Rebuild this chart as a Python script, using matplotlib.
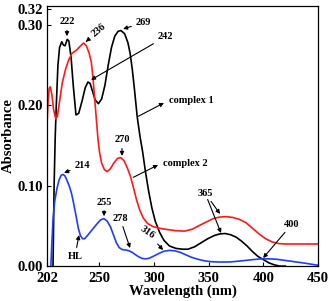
import matplotlib
matplotlib.use('Agg')
from matplotlib import pyplot as plt

# complex 1 (black)
c1_nm = [207.5, 208.5, 209.5, 210.5, 212, 213.5, 215.5, 217, 218.5, 220.5, 222, 224, 226,
         228.5, 231, 234, 237, 239.5, 241.5, 243.5, 246, 249, 252, 255, 258, 261, 264, 267,
         269.7, 273, 276, 278, 280, 282, 284.5, 287, 289.5, 292, 295, 298, 301, 305, 309,
         314, 320, 326, 331, 337, 343, 349, 355, 360, 365, 370, 375, 380, 385, 390, 395,
         400, 405, 410, 415, 420]
c1_abs = [0.0, 0.10, 0.16, 0.20, 0.25, 0.272, 0.279, 0.275, 0.274, 0.282, 0.28, 0.26, 0.225,
          0.188, 0.19, 0.205, 0.222, 0.229, 0.227, 0.218, 0.207, 0.202, 0.208, 0.225, 0.25,
          0.272, 0.286, 0.292, 0.293, 0.289, 0.278, 0.265, 0.245, 0.22, 0.186, 0.162, 0.142,
          0.118, 0.093, 0.072, 0.056, 0.042, 0.032, 0.025, 0.022, 0.021, 0.021, 0.024, 0.029,
          0.034, 0.038, 0.04, 0.0405, 0.039, 0.036, 0.031, 0.025, 0.018, 0.012, 0.008, 0.004,
          0.0015, 0.0, 0.0]

# complex 2 (red)
c2_nm = [202, 203, 204, 205, 206.5, 208, 210, 211.5, 213.5, 216, 219, 222, 225, 228.5, 232,
         235.5, 238, 240.5, 242.5, 244, 245.5, 247, 248.5, 250, 252, 254.5, 257, 260, 263,
         266.5, 269.5, 272.5, 275.5, 278.5, 281, 284, 287, 290, 294, 299, 305, 312, 320, 328,
         335, 342, 348, 354, 360, 366, 372, 378, 384, 390, 396, 402, 408, 414, 420, 435, 450]
c2_abs = [0.176, 0.205, 0.221, 0.223, 0.213, 0.195, 0.183, 0.186, 0.205, 0.228, 0.245, 0.257,
          0.265, 0.268, 0.273, 0.2775, 0.274, 0.265, 0.254, 0.235, 0.21, 0.185, 0.16, 0.142,
          0.128, 0.12, 0.1175, 0.121, 0.128, 0.134, 0.135, 0.131, 0.122, 0.111, 0.098, 0.082,
          0.069, 0.06, 0.053, 0.049, 0.047, 0.0455, 0.044, 0.0435, 0.046, 0.051, 0.055, 0.059,
          0.061, 0.0615, 0.0605, 0.058, 0.054, 0.047, 0.04, 0.034, 0.03, 0.028, 0.0275, 0.0275,
          0.0275]

# HL (blue)
hl_nm = [205.5, 206.5, 207.5, 209, 211, 213, 215, 216.8, 218.5, 220.5, 222.5, 224.5, 226.5,
         228.5, 230.5, 232.5, 234.5, 236.5, 239, 242, 245, 248, 251, 254, 257, 260, 263, 265.5,
         268, 271, 274, 277, 280, 283, 286, 289, 292, 295, 299, 304, 309, 314, 319, 324, 329,
         334, 340, 346, 352, 360, 370, 380, 390, 398, 405, 412, 420, 428, 436, 443, 450]
hl_abs = [0.0, 0.03, 0.058, 0.08, 0.096, 0.107, 0.113, 0.114, 0.112, 0.106, 0.099, 0.09, 0.077,
          0.063, 0.048, 0.038, 0.034, 0.034, 0.038, 0.043, 0.048, 0.053, 0.0575, 0.059, 0.056,
          0.049, 0.038, 0.029, 0.023, 0.0205, 0.02, 0.019, 0.017, 0.014, 0.0115, 0.0095, 0.009,
          0.0095, 0.012, 0.0155, 0.0185, 0.0195, 0.019, 0.017, 0.014, 0.011, 0.0085, 0.0065,
          0.0055, 0.005, 0.0052, 0.0065, 0.008, 0.009, 0.009, 0.0085, 0.007, 0.0055, 0.004,
          0.0025, 0.001]

x_ticks = [202, 250, 300, 350, 400, 450]
y_ticks = [0.00, 0.10, 0.20, 0.30, 0.32]

plt.rcParams['font.family'] = ['Liberation Serif', 'DejaVu Serif']
plt.rcParams['font.weight'] = 'bold'

fig = plt.figure(figsize=(3.31, 3.01), dpi=100)
ax = fig.add_axes([0.142, 0.116, 0.819, 0.864])

ax.plot(c1_nm, c1_abs, color='black', lw=1.2)
ax.plot(c2_nm, c2_abs, color='#ff1a1a', lw=1.2)
ax.plot(hl_nm, hl_abs, color='#1f3dff', lw=1.2)

ax.set_xlim(202, 450)
ax.set_ylim(0, 0.3235)
ax.set_xticks(x_ticks)
ax.set_yticks(y_ticks)
ax.set_yticklabels(['%.2f' % v for v in y_ticks])
ax.tick_params(direction='in', length=3, width=0.8, labelsize=10.5)
ax.tick_params(axis='x', pad=4)
ax.tick_params(axis='y', pad=3)
for lab in ax.get_xticklabels() + ax.get_yticklabels():
    lab.set_fontweight('bold')
for s in ax.spines.values():
    s.set_linewidth(0.9)

ax.set_xlabel('Wavelength (nm)', fontsize=10.5, fontweight='bold', labelpad=0)
ax.set_ylabel('Absorbance', fontsize=10.5, fontweight='bold', labelpad=2)

arrow = dict(arrowstyle='-|>', color='black', lw=0.8, mutation_scale=6,
             shrinkA=1, shrinkB=0)
fs = 7.5


def note(text, tip, pos, rot=0):
    ax.annotate(text, xy=tip, xytext=pos, ha='center', va='center', fontsize=fs,
                fontweight='bold', rotation=rot, arrowprops=arrow)


note('222', (220.3, 0.286), (220.3, 0.304))
note('236', (237.5, 0.279), (249.6, 0.293), rot=40)
note('269', (271.6, 0.295), (289.9, 0.3026))
note('242', (242.3, 0.2316), (310, 0.285))
note('270', (270.6, 0.137), (270.6, 0.157))
note('214', (217.6, 0.116), (234, 0.1245))
note('255', (254.2, 0.062), (254.2, 0.0797))
note('278', (278, 0.0224), (268.8, 0.0598))
note('HL', (231.3, 0.0386), (227.6, 0.0125))
note('316', (308.2, 0.0199), (293.5, 0.0423), rot=-35)
note('365', (360.3, 0.0648), (346.6, 0.0909))
ax.annotate('', xy=(361.2, 0.0411), xytext=(346.6, 0.0909), arrowprops=dict(arrow, shrinkA=5))
note('400', (399.7, 0.0100), (426.2, 0.0523))

ax.annotate('', xy=(309, 0.203), xytext=(284.4, 0.1855), arrowprops=arrow)
ax.text(313.6, 0.2055, 'complex 1', fontsize=fs, fontweight='bold', ha='left', va='center')
ax.annotate('', xy=(303.6, 0.1258), xytext=(279.8, 0.1096), arrowprops=arrow)
ax.text(308.2, 0.128, 'complex 2', fontsize=fs, fontweight='bold', ha='left', va='center')

fig.savefig('out.png', dpi=100)
